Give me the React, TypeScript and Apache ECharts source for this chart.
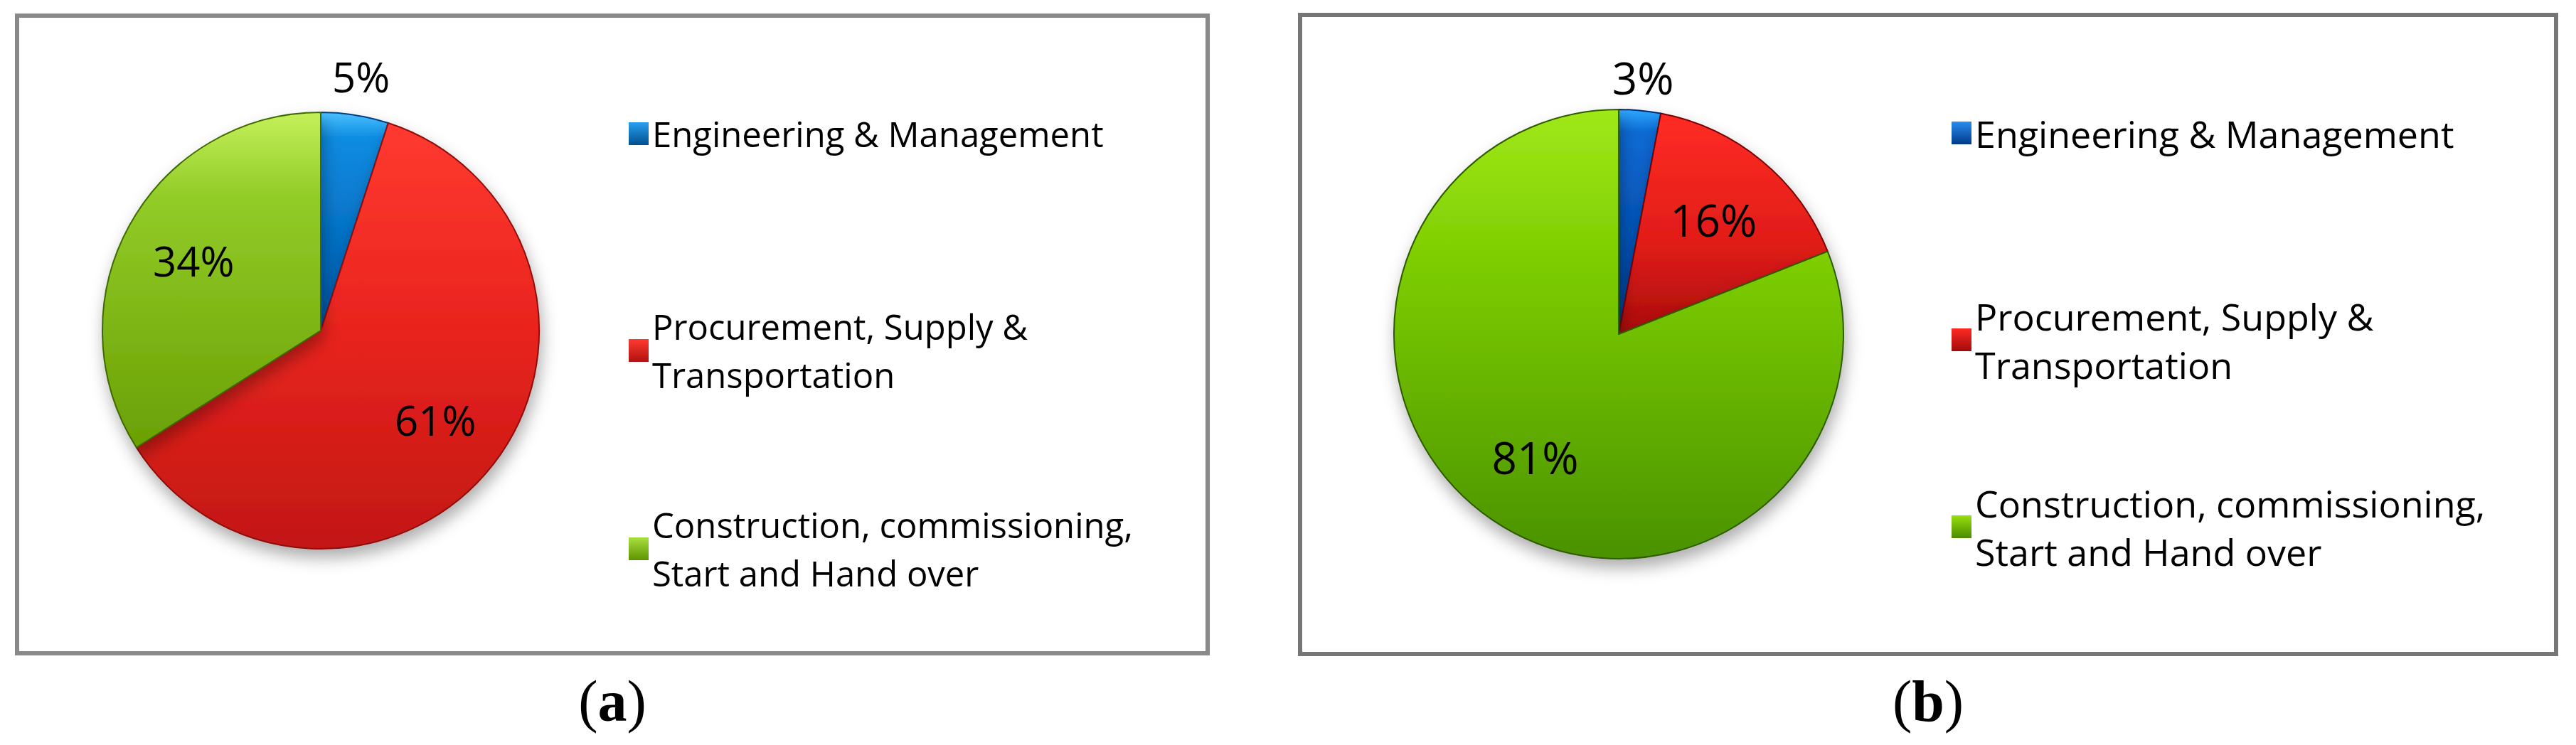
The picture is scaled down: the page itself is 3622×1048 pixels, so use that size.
import React, { useEffect, useRef } from "react";
import * as echarts from "echarts";

// ---- data ----
const categories = [
  "Engineering & Management",
  "Procurement, Supply & Transportation",
  "Construction, commissioning, Start and Hand over",
];
const legendLabels = [
  "Engineering & Management",
  "Procurement, Supply &\nTransportation",
  "Construction, commissioning,\nStart and Hand over",
];
const valuesA = [5, 61, 34];
const valuesB = [3, 16, 81];
const captions = ["a", "b"];

// ---- styles ----
const grad = (stops: [number, string][]) => ({
  type: "linear",
  x: 0,
  y: 0,
  x2: 0,
  y2: 1,
  colorStops: stops.map(([offset, color]) => ({ offset, color })),
});

const colorsA = [
  grad([[0, "#4cc0ff"], [0.12, "#0b8ce2"], [1, "#0056a8"]]),
  grad([[0, "#ff3a30"], [0.5, "#e8231d"], [1, "#c21714"]]),
  grad([[0, "#c4f05a"], [0.25, "#92cc28"], [1, "#6aa004"]]),
];
const bordersA = ["#003f80", "#8e0c0a", "#3f6a00"];
const colorsB = [
  grad([[0, "#30a8ff"], [0.1, "#0a6ad4"], [1, "#003e9c"]]),
  grad([[0, "#ff2c24"], [0.6, "#e01c18"], [1, "#a80c0c"]]),
  grad([[0, "#a0e818"], [0.35, "#7ccc00"], [1, "#4a9200"]]),
];
const bordersB = ["#002c70", "#7a0606", "#2f5a00"];

const legendIconA = [
  grad([[0, "#2aa0f0"], [1, "#00508f"]]),
  grad([[0, "#ff3a30"], [1, "#b01210"]]),
  grad([[0, "#a8e040"], [1, "#5e9400"]]),
];
const legendIconB = [
  grad([[0, "#2a8cf0"], [1, "#003a8a"]]),
  grad([[0, "#ff2a22"], [1, "#a00c0c"]]),
  grad([[0, "#98e010"], [1, "#4a8a00"]]),
];

function pieSeries(
  values: number[],
  center: number[],
  radius: number,
  colors: any[],
  borders: string[],
  fontSize: number,
  lineLens: number[]
) {
  return {
    type: "pie",
    center,
    radius,
    startAngle: 90,
    clockwise: true,
    avoidLabelOverlap: false,
    silent: true,
    label: {
      show: true,
      position: "outside",
      alignTo: "none",
      edgeDistance: 0,
      bleedMargin: 0,
      distanceToLabelLine: 0,
      fontFamily: "Open Sans",
      fontSize,
      color: "#000",
      formatter: (p: any) => p.value + "%",
    },
    labelLine: { show: false, length2: 0 },
    labelLayout: { align: "center", verticalAlign: "middle" },
    itemStyle: {
      borderWidth: 2,
      shadowBlur: 22,
      shadowColor: "rgba(0,0,0,0.32)",
      shadowOffsetY: 12,
      shadowOffsetX: 3,
    },
    data: values.map((v, i) => ({
      value: v,
      name: categories[i],
      itemStyle: { color: colors[i], borderColor: borders[i] },
      labelLine: { show: false, length: lineLens[i], length2: 0 },
    })),
  };
}

function legendItem(
  i: number,
  left: number,
  top: number,
  icon: any,
  fontSize: number
) {
  return {
    left,
    top,
    orient: "vertical",
    padding: 0,
    itemWidth: 28,
    itemHeight: 32,
    icon: "rect",
    selectedMode: false,
    data: [{ name: categories[i], itemStyle: { color: icon, borderWidth: 0 } }],
    formatter: (name: string) => legendLabels[categories.indexOf(name)],
    textStyle: {
      fontFamily: "Open Sans",
      fontSize,
      color: "#000",
      lineHeight: 68,
      backgroundColor: "transparent",
      padding: i === 0 ? 0 : [68, 0, 0, 0],
    },
  };
}

const captionRich = {
  n: { fontFamily: "Liberation Serif", fontSize: 82, fill: "#000" },
  b: { fontFamily: "Liberation Serif", fontSize: 82, fontWeight: "bold", fill: "#000" },
};

export default function App() {
  const ref = useRef<HTMLDivElement>(null);

  useEffect(() => {
    document.body.style.margin = "0";
    const chart = echarts.init(ref.current!, undefined, { renderer: "svg" });
    const option: any = {
      animation: false,
      backgroundColor: "#ffffff",
      graphic: [
        {
          type: "rect",
          silent: true,
          shape: { x: 24, y: 22, width: 1674, height: 897 },
          style: { fill: "none", stroke: "#898989", lineWidth: 6 },
        },
        {
          type: "rect",
          silent: true,
          shape: { x: 1828, y: 21, width: 1766, height: 899 },
          style: { fill: "none", stroke: "#767676", lineWidth: 6 },
        },
        {
          type: "text",
          silent: true,
          x: 861,
          y: 986,
          style: {
            text: "{n|(}{b|" + captions[0] + "}{n|)}",
            rich: captionRich,
            align: "center",
            verticalAlign: "middle",
          },
        },
        {
          type: "text",
          silent: true,
          x: 2711,
          y: 986,
          style: {
            text: "{n|(}{b|" + captions[1] + "}{n|)}",
            rich: captionRich,
            align: "center",
            verticalAlign: "middle",
          },
        },
      ],
      legend: [
        legendItem(0, 884, 154, legendIconA[0], 49),
        legendItem(1, 884, 391, legendIconA[1], 49),
        legendItem(2, 884, 670, legendIconA[2], 49),
        legendItem(0, 2744, 153, legendIconB[0], 52),
        legendItem(1, 2744, 376, legendIconB[1], 52),
        legendItem(2, 2744, 639, legendIconB[2], 52),
      ],
      series: [
        pieSeries(valuesA, [451, 465], 307, colorsA, bordersA, 58, [55, -103, -103]),
        pieSeries(valuesB, [2276, 470], 316, colorsB, bordersB, 62, [47, -107, -107]),
      ],
    };
    chart.setOption(option);
    return () => chart.dispose();
  }, []);

  return <div ref={ref} style={{ width: 3622, height: 1048 }} />;
}
